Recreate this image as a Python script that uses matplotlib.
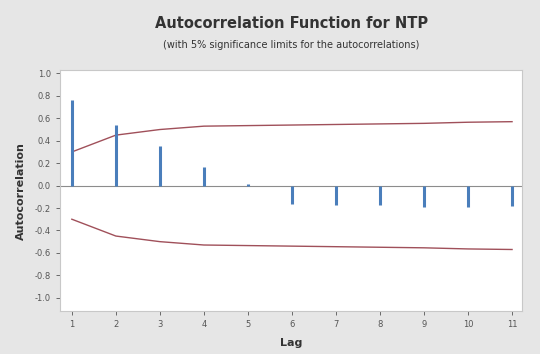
import numpy as np
import matplotlib.pyplot as plt

lags = [1, 2, 3, 4, 5, 6, 7, 8, 9, 10, 11]
acf = [0.76, 0.54, 0.35, 0.17, 0.01, -0.16, -0.17, -0.17, -0.19, -0.19, -0.18]
limit = [0.30, 0.45, 0.50, 0.53, 0.535, 0.54, 0.545, 0.55, 0.555, 0.565, 0.57]
yticks = [1.0, 0.8, 0.6, 0.4, 0.2, 0.0, -0.2, -0.4, -0.6, -0.8, -1.0]

fig = plt.figure(figsize=(5.4, 3.54), dpi=100, facecolor='#e6e6e6')
ax = fig.add_axes([0.111, 0.121, 0.856, 0.681])
ax.set_facecolor('white')

ax.axhline(0, color='#8c8c8c', lw=0.8, zorder=1)
ax.vlines(lags, 0, acf, color='#4a7ebb', lw=2.2, zorder=3)
ax.plot(lags, limit, color='#a0505a', lw=1.0, zorder=2)
ax.plot(lags, -np.array(limit), color='#a0505a', lw=1.0, zorder=2)

ax.set_xlim(0.73, 11.23)
ax.set_ylim(-1.12, 1.03)
ax.set_xticks(lags)
ax.set_yticks(yticks)
ax.set_yticklabels([f'{v:.1f}' for v in yticks])
ax.tick_params(labelsize=6, colors='#555555', length=3, width=0.6)
for s in ax.spines.values():
    s.set_color('#c8c8c8')

ax.set_xlabel('Lag', fontsize=8, fontweight='bold', color='#333333', labelpad=6)
ax.set_ylabel('Autocorrelation', fontsize=8, fontweight='bold', color='#333333', labelpad=6)

fig.text(0.54, 0.935, 'Autocorrelation Function for NTP', ha='center', va='center',
         fontsize=10.5, fontweight='bold', color='#333333')
fig.text(0.54, 0.873, '(with 5% significance limits for the autocorrelations)', ha='center',
         va='center', fontsize=7, color='#333333')

fig.savefig('out.png', dpi=100, facecolor=fig.get_facecolor())
